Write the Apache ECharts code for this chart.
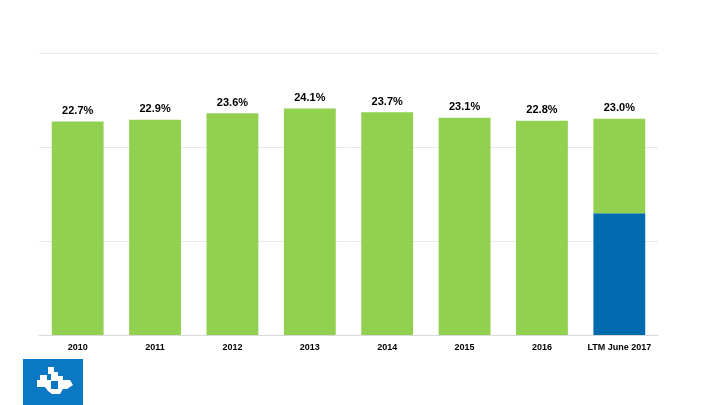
<!DOCTYPE html>
<html><head><meta charset="utf-8">
<script src="https://cdn.jsdelivr.net/npm/echarts@6/dist/echarts.min.js"></script>
<style>html,body{margin:0;padding:0;background:#fff}#c{width:720px;height:405px}</style>
</head><body><div id="c"></div>
<script>
var categories = ['2010','2011','2012','2013','2014','2015','2016','LTM June 2017'];
var totals = [22.7, 22.9, 23.6, 24.1, 23.7, 23.1, 22.8, 23.0];
var baseBlue = [0, 0, 0, 0, 0, 0, 0, 12.95];
var yTicks = [0, 10, 20, 30];

var blueData = baseBlue.map(function(v){ return v > 0 ? v : '-'; });
var greenData = totals.map(function(t, i){ return +(t - baseBlue[i]).toFixed(2); });

var chart = echarts.init(document.getElementById('c'));
chart.setOption({
  animation: false,
  grid: {left: 39, right: 62, top: 53, bottom: 70},
  xAxis: {
    type: 'category', data: categories,
    axisLine: {lineStyle: {color: '#d9d9d9'}},
    axisTick: {show: false},
    axisLabel: {color: '#000', fontWeight: 'bold', fontSize: 9, fontFamily: 'Liberation Sans', margin: 8, interval: 0}
  },
  yAxis: {
    type: 'value', min: yTicks[0], max: yTicks[yTicks.length-1], interval: 10,
    axisLabel: {show: false}, axisLine: {show: false}, axisTick: {show: false},
    splitLine: {lineStyle: {color: '#e8e8e8'}}
  },
  series: [
    {type: 'bar', stack: 's', data: blueData, barWidth: '67%', itemStyle: {color: '#006aae'}},
    {type: 'bar', stack: 's', data: greenData, barWidth: '67%', itemStyle: {color: '#92d050'},
     label: {show: true, position: 'top', distance: 5, color: '#000', fontWeight: 'bold', fontSize: 11, fontFamily: 'Liberation Sans',
       formatter: function(p){ return totals[p.dataIndex].toFixed(1) + '%'; }}}
  ],
  graphic: [
    {type: 'group', left: 23, top: 359, children: [
      {type: 'rect', shape: {x: 0, y: 0, width: 60, height: 46}, style: {fill: '#0a78c2'}},
      {type: 'polygon', shape: {points: [[25,8],[31,8],[31,13],[35,13],[35,22],[28,22],[28,15],[25,15]]}, style: {fill: '#fff'}},
      {type: 'polygon', shape: {points: [[17,16],[24,16],[24,21],[28,21],[28,28],[20,28],[14,28],[14,21],[17,21]]}, style: {fill: '#fff'}},
      {type: 'polygon', shape: {points: [[34,17],[40,17],[40,21],[47,21],[50,26],[44,30],[35,30],[35,24],[34,24]]}, style: {fill: '#fff'}},
      {type: 'polygon', shape: {points: [[22,28],[28,28],[28,30],[35,30],[40,30],[37,35],[29,35],[25,32]]}, style: {fill: '#fff'}},
      {type: 'rect', shape: {x: 28, y: 22, width: 7, height: 7}, style: {fill: '#0a78c2'}}
    ]}
  ]
});
</script></body></html>
